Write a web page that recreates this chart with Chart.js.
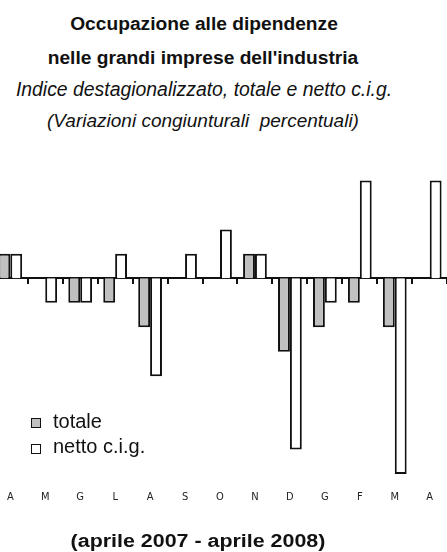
<!DOCTYPE html>
<html>
<head>
<meta charset="utf-8">
<script src="https://cdn.jsdelivr.net/npm/chart.js@4/dist/chart.umd.min.js"></script>
<style>
  body { margin: 0; width: 447px; height: 552px; position: relative; overflow: hidden; background: #fff; font-family: 'Liberation Sans', Arial, sans-serif; }
  .t { position: absolute; width: 400px; text-align: center; line-height: 19px; font-size: 19px; color: #111; white-space: pre; }
  .b { font-weight: bold; }
  .i { font-style: italic; }
  #chartBox { position: absolute; left: -10px; top: 0; width: 460px; height: 552px; }
  .leg { position: absolute; left: 53px; font-size: 20px; line-height: 20px; color: #111; }
  .box { position: absolute; left: 31px; width: 8px; height: 8px; border: 1.5px solid #111; }
</style>
</head>
<body>
<div class="t b" style="top:14px;left:4px;font-size:19.2px">Occupazione alle dipendenze</div>
<div class="t b" style="top:48px;left:3px;font-size:19.2px">nelle grandi imprese dell'industria</div>
<div class="t i" style="top:80px;left:4px;font-size:19.4px">Indice destagionalizzato, totale e netto c.i.g.</div>
<div class="t i" style="top:111px;left:3px">(Variazioni congiunturali  percentuali)</div>

<div id="chartBox"><canvas id="myChart" width="460" height="552"></canvas></div>

<div class="box" style="top:418px;background:#c0c0c0"></div>
<div class="leg" style="top:411px">totale</div>
<div class="box" style="top:444px;background:#fff"></div>
<div class="leg" style="top:436px">netto c.i.g.</div>

<div class="t b" style="top:532px;left:-2px;font-size:18px;line-height:18px;transform:scaleX(1.19)">(aprile 2007 - aprile 2008)</div>

<script>
/* Dati */
const mesi = ['A', 'M', 'G', 'L', 'A', 'S', 'O', 'N', 'D', 'G', 'F', 'M', 'A'];
const totale = [0.1, 0, -0.1, -0.1, -0.2, 0, 0, 0.1, -0.3, -0.2, -0.1, -0.2, 0];
const nettoCig = [0.1, -0.1, -0.1, 0.1, -0.4, 0.1, 0.2, 0.1, -0.7, -0.1, 0.4, -0.8, 0.4];

const config = {
    type: 'bar',
    data: {
        labels: mesi,
        datasets: [{
            label: 'totale',
            data: totale,
            backgroundColor: '#c0c0c0',
            borderColor: '#111',
            borderWidth: 2,
        }, {
            label: 'netto c.i.g.',
            data: nettoCig,
            backgroundColor: '#fff',
            borderColor: '#111',
            borderWidth: 2,
        }]
    },
    options: {
        responsive: false,
        animation: false,
        layout: { padding: { top: 156, bottom: 30.8, left: 0, right: 0 } },
        categoryPercentage: 0.68,
        barPercentage: 1,
        plugins: {
            legend: { display: false },
            tooltip: { enabled: false }
        },
        scales: {
            x: {
                position: 'bottom',
                offset: true,
                grid: { display: false, drawTicks: false },
                border: { display: false },
                ticks: {
                    padding: 17,
                    color: '#222',
                    font: { size: 11, family: "'Liberation Sans Narrow', 'DejaVu Sans Condensed', 'Liberation Sans', sans-serif" }
                }
            },
            x0: {
                axis: 'x',
                type: 'category',
                position: { y: 0 },
                offset: true,
                grid: { display: true, offset: true, drawOnChartArea: false, drawTicks: true, tickLength: 5, lineWidth: 2, color: '#111' },
                border: { display: true, color: '#111', width: 2 },
                ticks: { display: false }
            },
            y: {
                display: false,
                min: -0.8,
                max: 0.5
            }
        }
    }
};

const myChart = new Chart(document.getElementById('myChart'), config);
</script>
</body>
</html>
